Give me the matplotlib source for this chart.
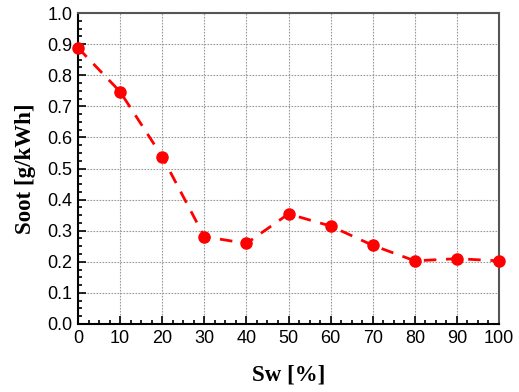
import matplotlib
matplotlib.use('Agg')
import matplotlib.pyplot as plt
from matplotlib.ticker import MultipleLocator

sw = [0, 10, 20, 30, 40, 50, 60, 70, 80, 90, 100]
soot = [0.888, 0.747, 0.538, 0.281, 0.259, 0.354, 0.315, 0.253, 0.203, 0.210, 0.203]

fig = plt.figure(figsize=(5.19, 3.92), dpi=100)
ax = fig.add_axes([0.1503, 0.1735, 0.8112, 0.7933])

ax.plot(sw, soot, color='red', linestyle=(0, (4.5, 3.5)), linewidth=2,
        marker='o', markersize=8, clip_on=False, zorder=3)

ax.set_xlim(0, 100)
ax.set_ylim(0, 1.0)
ax.xaxis.set_major_locator(MultipleLocator(10))
ax.xaxis.set_minor_locator(MultipleLocator(2.5))
ax.yaxis.set_major_locator(MultipleLocator(0.1))
ax.yaxis.set_minor_locator(MultipleLocator(0.025))
ax.yaxis.set_major_formatter(matplotlib.ticker.FormatStrFormatter('%.1f'))

ax.tick_params(which='both', direction='in', top=False, right=False, width=1.2)
ax.tick_params(which='major', length=6, labelsize=13, pad=4)
ax.tick_params(which='minor', length=3)
for lab in ax.get_xticklabels() + ax.get_yticklabels():
    lab.set_family('Liberation Sans')

ax.grid(True, which='major', color='#9a9a9a', linestyle=(0, (1.5, 1.2)), linewidth=0.8)

for s in ['left', 'bottom']:
    ax.spines[s].set_linewidth(1.5)
    ax.spines[s].set_color('black')
for s in ['top', 'right']:
    ax.spines[s].set_linewidth(1.5)
    ax.spines[s].set_color('#555555')

ax.set_xlabel('Sw [%]', family='Liberation Serif', fontweight='bold', fontsize=16.5, labelpad=13)
ax.set_ylabel('Soot [g/kWh]', family='Liberation Serif', fontweight='bold', fontsize=16.5, labelpad=8)

fig.savefig('out.png', dpi=100)
